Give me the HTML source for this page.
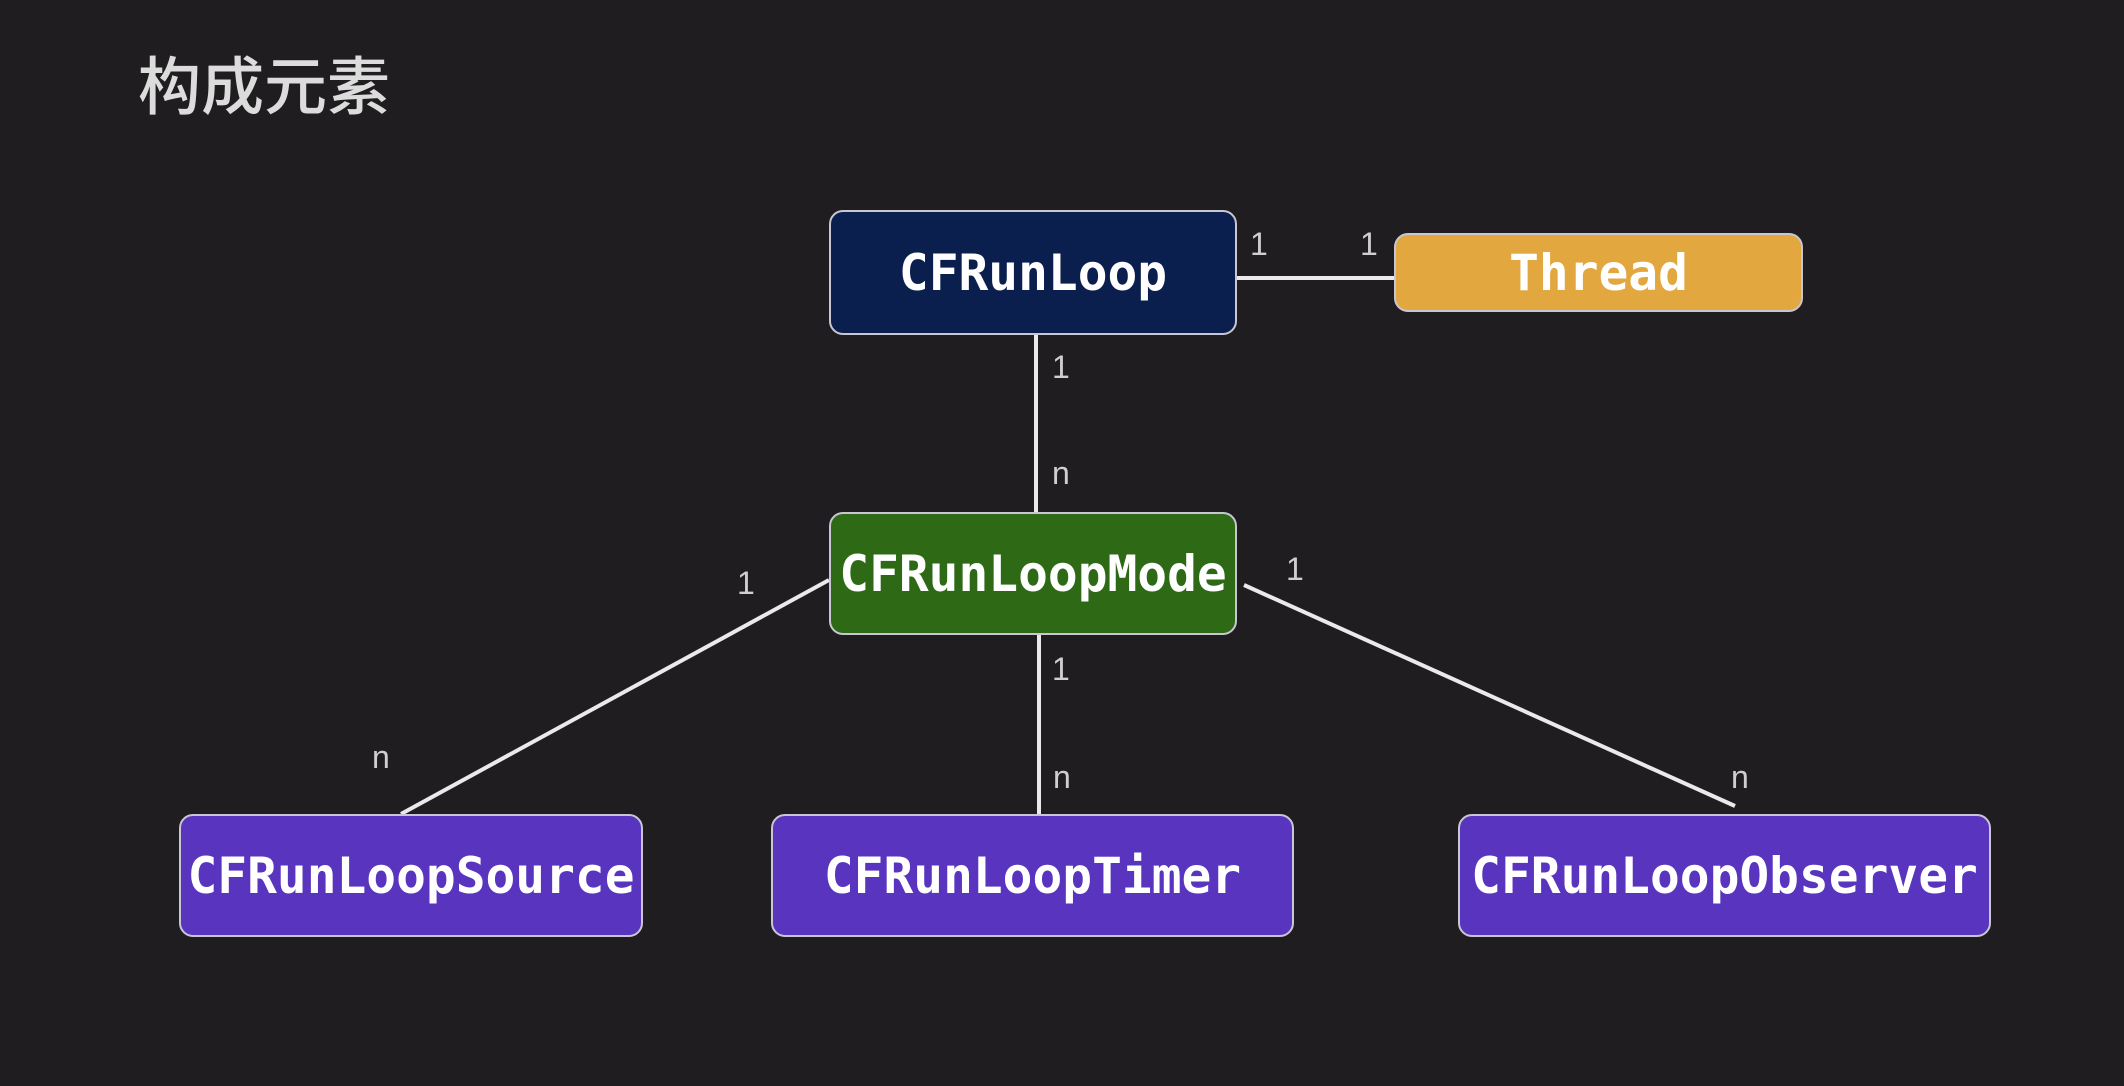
<!DOCTYPE html>
<html><head><meta charset="utf-8"><style>
html,body{margin:0;padding:0;width:2124px;height:1086px;background:#1f1d1f;overflow:hidden;}
.t{position:absolute;left:138px;top:42px;font:500 63px "Noto Sans CJK SC","WenQuanYi Zen Hei",sans-serif;color:#dcdcdc;line-height:1.3;}
.b{position:absolute;box-sizing:border-box;border:2px solid #c9c6d4;border-radius:14px;color:#fff;font:bold 49.5px "DejaVu Sans Mono","Liberation Mono",monospace;display:flex;align-items:center;justify-content:center;white-space:nowrap;}
.l{font:32px "Liberation Sans",sans-serif;fill:#cfcfcf;}
</style></head><body>
<div class="t">构成元素</div>
<svg width="2124" height="1086" style="position:absolute;left:0;top:0">
<g stroke="#eaeaea" stroke-width="4">
<line x1="1237" y1="278" x2="1394" y2="278"/>
<line x1="1036" y1="335" x2="1036" y2="512"/>
<line x1="829" y1="580" x2="401" y2="814"/>
<line x1="1039" y1="635" x2="1039" y2="814"/>
<line x1="1244" y1="585" x2="1735" y2="806"/>
</g>
<text class="l" x="1250" y="255">1</text>
<text class="l" x="1360" y="255">1</text>
<text class="l" x="1052" y="378">1</text>
<text class="l" x="1052" y="484">n</text>
<text class="l" x="737" y="594">1</text>
<text class="l" x="1286" y="580">1</text>
<text class="l" x="1052" y="680">1</text>
<text class="l" x="372" y="768">n</text>
<text class="l" x="1053" y="788">n</text>
<text class="l" x="1731" y="788">n</text>
</svg>
<div class="b" style="left:829px;top:210px;width:408px;height:125px;background:#0b1f4e">CFRunLoop</div>
<div class="b" style="left:1394px;top:233px;width:409px;height:79px;background:#e2a73e">Thread</div>
<div class="b" style="left:829px;top:512px;width:408px;height:123px;background:#2e6a16">CFRunLoopMode</div>
<div class="b" style="left:179px;top:814px;width:464px;height:123px;background:#5934bf">CFRunLoopSource</div>
<div class="b" style="left:771px;top:814px;width:523px;height:123px;background:#5934bf">CFRunLoopTimer</div>
<div class="b" style="left:1458px;top:814px;width:533px;height:123px;background:#5934bf">CFRunLoopObserver</div>
</body></html>
